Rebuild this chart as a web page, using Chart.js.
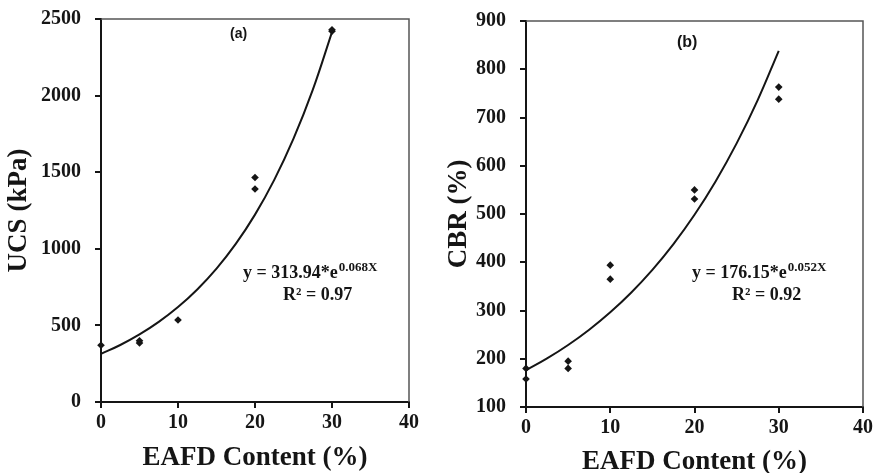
<!DOCTYPE html>
<html>
<head>
<meta charset="utf-8">
<script src="https://cdn.jsdelivr.net/npm/chart.js@4"></script>
<style>
  body { margin: 0; background: #fff; }
  .box { position: absolute; top: 0; }
</style>
</head>
<body>
<div class="box" style="left:0"><canvas id="ucs" width="438" height="473"></canvas></div>
<div class="box" style="left:440px"><canvas id="cbr" width="437" height="473"></canvas></div>
<script>
// Dados
const ucsX = [0, 5, 5, 10, 20, 20, 30, 30];
const ucsY = [370, 385, 400, 535, 1390, 1465, 2420, 2430];
const cbrX = [0, 0, 5, 5, 10, 10, 20, 20, 30, 30];
const cbrY = [158, 180, 180, 195, 365, 394, 531, 550, 738, 763];

// Coeficientes das curvas de ajuste (texto do gráfico)
const ucsFit = { a: 313.94, b: 0.068, r2: '0.97' };
const cbrFit = { a: 176.15, b: 0.052, r2: '0.92' };
const fitX = [0, 2.5, 5, 7.5, 10, 12.5, 15, 17.5, 20, 22.5, 25, 27.5, 30];

const serif = "'Liberation Serif', 'Times New Roman', serif";
const ink = '#151515';

function toPoints(xs, ys) {
  return xs.map((x, i) => ({ x: x, y: ys[i] }));
}
function fitPoints(fit) {
  return fitX.map(x => ({ x: x, y: fit.a * Math.exp(fit.b * x) }));
}

// borda fina em cima e à direita + textos da equação
function boxAndText(opts) {
  return {
    id: 'boxText',
    afterDraw(chart) {
      const { ctx, chartArea: ca } = chart;
      ctx.save();
      ctx.strokeStyle = '#555';
      ctx.lineWidth = 1.5;
      ctx.beginPath();
      ctx.moveTo(ca.left, ca.top);
      ctx.lineTo(ca.right, ca.top);
      ctx.lineTo(ca.right, ca.bottom);
      ctx.stroke();

      ctx.fillStyle = ink;
      ctx.textBaseline = 'alphabetic';
      ctx.font = "bold " + opts.tagSize + "px 'Liberation Sans', Arial, sans-serif";
      ctx.fillText(opts.tag, opts.tagX, opts.tagY);

      ctx.font = 'bold 18px ' + serif;
      const main = 'y = ' + opts.fit.a.toFixed(2) + '*e';
      ctx.fillText(main, opts.eqX, opts.eqY);
      const w = ctx.measureText(main).width;
      ctx.font = 'bold 13px ' + serif;
      ctx.fillText(String(opts.fit.b.toFixed(3)) + 'X', opts.eqX + w + 1, opts.eqY - 7);
      ctx.font = 'bold 18px ' + serif;
      ctx.fillText('R² = ' + opts.fit.r2, opts.r2X, opts.eqY + 22);
      ctx.restore();
    }
  };
}

function makeChart(id, cfg) {
  const tickFont = { family: serif, size: 20, weight: 'bold' };
  const titleFont = { family: serif, size: 27, weight: 'bold', lineHeight: 1 };
  new Chart(document.getElementById(id), {
    type: 'scatter',
    data: {
      datasets: [
        {
          data: toPoints(cfg.xs, cfg.ys),
          pointStyle: 'rectRot',
          pointRadius: 3.8,
          backgroundColor: ink,
          borderColor: ink,
          borderWidth: 0,
          clip: false
        },
        {
          data: fitPoints(cfg.fit),
          showLine: true,
          tension: 0.4,
          pointRadius: 0,
          borderColor: ink,
          borderWidth: 2,
          clip: false
        }
      ]
    },
    options: {
      responsive: false,
      animation: false,
      events: [],
      layout: { padding: cfg.pad },
      plugins: { legend: { display: false }, tooltip: { enabled: false } },
      scales: {
        x: {
          type: 'linear', min: 0, max: 40,
          afterFit: s => { s.height = cfg.xH; },
          border: { color: ink, width: 2 },
          grid: { drawOnChartArea: false, color: ink, lineWidth: 2, tickLength: 6 },
          ticks: { stepSize: 10, color: ink, font: tickFont, padding: 3, maxRotation: 0 },
          title: { display: true, text: 'EAFD Content (%)', color: ink, font: titleFont, padding: { bottom: cfg.xTitlePad, top: 0 } }
        },
        y: {
          type: 'linear', min: cfg.yMin, max: cfg.yMax,
          afterFit: s => { s.width = cfg.yW; s.paddingTop = 0; s.paddingBottom = 0; },
          border: { color: ink, width: 2 },
          grid: { drawOnChartArea: false, color: ink, lineWidth: 2, tickLength: 6 },
          ticks: { stepSize: cfg.yStep, color: ink, font: tickFont, padding: 14, callback: v => String(v) },
          title: { display: true, text: cfg.yTitle, color: ink, font: titleFont, padding: { top: 6, bottom: 0 } }
        }
      }
    },
    plugins: [boxAndText(cfg.text)]
  });
}

makeChart('ucs', {
  xs: ucsX, ys: ucsY, fit: ucsFit,
  yMin: 0, yMax: 2500, yStep: 500, yTitle: 'UCS (kPa)',
  yW: 101, xH: 71, xTitlePad: 1,
  pad: { top: 19, right: 29, left: 0, bottom: 0 },
  text: { tag: '(a)', tagSize: 14, tagX: 230, tagY: 38, fit: ucsFit, eqX: 243, eqY: 278, r2X: 283 }
});

makeChart('cbr', {
  xs: cbrX, ys: cbrY, fit: cbrFit,
  yMin: 100, yMax: 900, yStep: 100, yTitle: 'CBR (%)',
  yW: 86, xH: 66, xTitlePad: -3,
  pad: { top: 21, right: 14, left: 0, bottom: 0 },
  text: { tag: '(b)', tagSize: 16, tagX: 237, tagY: 47, fit: cbrFit, eqX: 252, eqY: 278, r2X: 292 }
});
</script>
</body>
</html>
